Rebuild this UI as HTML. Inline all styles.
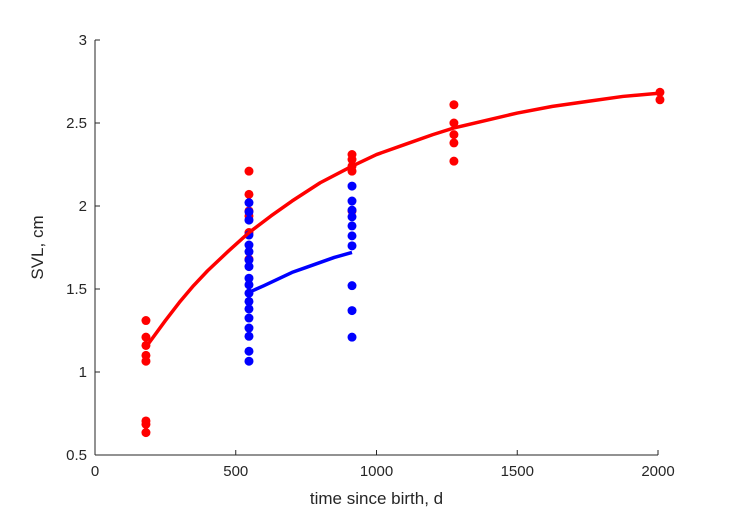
<!DOCTYPE html>
<html><head><meta charset="utf-8"><style>
body{margin:0;background:#fff;}
svg{display:block;font-family:"Liberation Sans",sans-serif;}
</style></head><body>
<svg id="c" width="729" height="521"></svg>
<script>
const redX=[181,181,181,181,181,181,181,181,547,547,547,547,547,547,913,913,913,913,913,1275,1275,1275,1275,1275,2007,2007];
const redY=[1.31,1.21,1.16,1.10,1.065,0.705,0.685,0.635,2.21,2.07,1.97,1.94,1.84,1.68,2.31,2.28,2.24,2.21,1.97,2.61,2.50,2.43,2.38,2.27,2.685,2.64];
const blueX=[547,547,547,547,547,547,547,547,547,547,547,547,547,547,547,547,547,547,913,913,913,913,913,913,913,913,913,913];
const blueY=[2.02,1.965,1.915,1.825,1.765,1.725,1.675,1.635,1.565,1.525,1.475,1.425,1.38,1.325,1.265,1.215,1.125,1.065,2.12,2.03,1.975,1.935,1.88,1.82,1.76,1.52,1.37,1.21];
const redCurveX=[181,250,300,350,400,475,547,625,700,800,913,1000,1100,1200,1275,1400,1500,1625,1750,1875,2007];
const redCurveY=[1.15,1.31,1.42,1.52,1.61,1.73,1.84,1.94,2.03,2.14,2.24,2.31,2.37,2.43,2.47,2.52,2.56,2.60,2.63,2.66,2.68];
const blueCurveX=[547,600,650,700,750,800,850,913];
const blueCurveY=[1.48,1.52,1.56,1.60,1.63,1.66,1.69,1.72];
const xTicks=[0,500,1000,1500,2000];
const yTicks=[0.5,1,1.5,2,2.5,3];
const X0=95,X1=658,Y0=455,Y1=40;
const sx=v=>X0+(v-0)/(2000-0)*(X1-X0);
const sy=v=>Y0-(v-0.5)/(3-0.5)*(Y0-Y1);
const svg=document.getElementById('c');
const NS='http://www.w3.org/2000/svg';
function mk(t,a,p){const e=document.createElementNS(NS,t);for(const k in a)e.setAttribute(k,a[k]);(p||svg).appendChild(e);return e;}
const ax=mk('g',{});


const xl=mk('line',{x1:X0,y1:Y0,x2:X1,y2:Y0,stroke:'#262626','stroke-width':1},ax);


const yl=mk('line',{x1:X0,y1:Y0,x2:X0,y2:Y1,stroke:'#262626','stroke-width':1},ax);


xTicks.forEach(v=>{
  const t=mk('line',{x1:sx(v),y1:Y0,x2:sx(v),y2:Y0-5,stroke:'#262626'},ax);
  
  
  const l=mk('text',{x:sx(v),y:Y0+21,'text-anchor':'middle','font-size':15,fill:'#262626'},ax);
  l.textContent=v;
  
  
});
yTicks.forEach(v=>{
  const t=mk('line',{x1:X0,y1:sy(v),x2:X0+5,y2:sy(v),stroke:'#262626'},ax);
  
  
  const l=mk('text',{x:X0-8,y:sy(v)+5,'text-anchor':'end','font-size':15,fill:'#262626'},ax);
  l.textContent=v;
  
  
});
const xt=mk('text',{x:(X0+X1)/2,y:Y0+49,'text-anchor':'middle','font-size':17,fill:'#262626'});
xt.textContent='time since birth, d';


const yt=mk('text',{x:0,y:0,'text-anchor':'middle','font-size':17,fill:'#262626',transform:`translate(43,${(Y0+Y1)/2}) rotate(-90)`});
yt.textContent='SVL, cm';


function pts(xs,ys,col,name){
  xs.forEach((x,i)=>{const c=mk('circle',{cx:sx(x),cy:sy(ys[i]),r:4.5,fill:col});
  
  });
}
function line(xs,ys,col,name){
  const p=mk('polyline',{points:xs.map((x,i)=>sx(x)+','+sy(ys[i])).join(' '),fill:'none',stroke:col,'stroke-width':3.5,'stroke-linejoin':'round'});
  
  
}
pts(redX,redY,'#ff0000','red-point');
pts(blueX,blueY,'#0000ff','blue-point');
line(redCurveX,redCurveY,'#ff0000','red-growth-curve');
line(blueCurveX,blueCurveY,'#0000ff','blue-growth-curve');
</script>
</body></html>
